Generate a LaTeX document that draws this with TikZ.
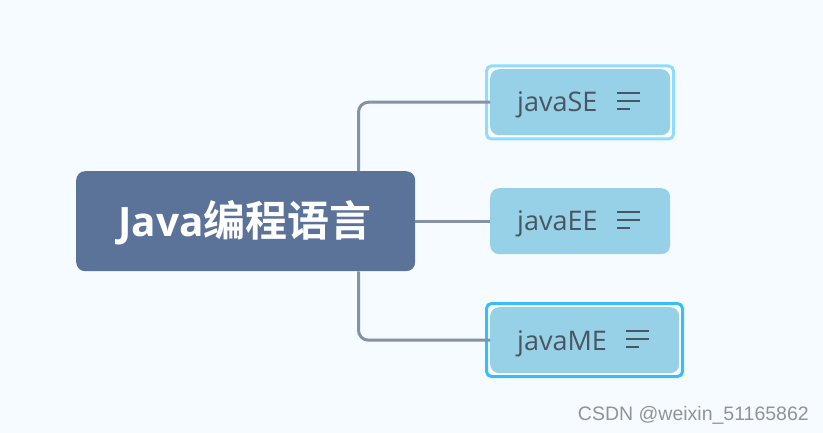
\documentclass[tikz,border=0pt]{standalone}
\usepackage{fontspec}
\setmainfont{Open Sans}
\newfontfamily\cjk{Noto Sans CJK SC}[BoldFont={* Bold}]
\newfontfamily\wmfont{Liberation Sans}
\definecolor{bgc}{HTML}{F5FBFF}
\definecolor{rootc}{HTML}{5B7299}
\definecolor{leafc}{HTML}{96D1E8}
\definecolor{linec}{HTML}{8691A8}
\definecolor{inkc}{HTML}{4A5561}
\definecolor{selc}{HTML}{8FDCFF}
\definecolor{actc}{HTML}{38BDF8}
\tikzset{
  rootbox/.style={fill=rootc,rounded corners=9pt,minimum width=339pt,minimum height=100pt,inner sep=0pt,anchor=north west,text=white},
  leafbox/.style={fill=leafc,rounded corners=9pt,minimum height=66pt,inner sep=0pt,anchor=north west},
  framebox/.style={draw=#1,line width=3pt,fill=white!40!bgc,rounded corners=5pt,inner sep=0pt,anchor=north west},
  leaftext/.style={anchor=base west,inner sep=0pt,text=inkc,font=\fontsize{27}{27}\selectfont},
  conn/.style={draw=linec,line width=3pt,rounded corners=10pt},
  iconline/.style={draw=inkc,line width=2.1pt},
  wmark/.style={anchor=base east,inner sep=0pt,text=gray!85,font=\wmfont\fontsize{19.5}{19.5}\selectfont}
}
\begin{document}
\begin{tikzpicture}[x=1pt,y=-1pt]
\useasboundingbox[fill=bgc] (0,0) rectangle (823,433);
\node[framebox=selc,minimum width=187pt,minimum height=73pt] (seframe) at (485,64.5) {};
\node[framebox=actc,minimum width=196pt,minimum height=73pt] (meframe) at (485,302) {};
\node[rootbox] (root) at (76,171) {};
\node[leafbox,minimum width=180pt] (se) at (490,69) {};
\node[leafbox,minimum width=180pt] (ee) at (490,188) {};
\node[leafbox,minimum width=189pt] (me) at (490,307) {};
\coordinate (trunk) at (358.5,221);
\draw[conn] (trunk |- root.north) |- (se.west);
\draw[conn] (trunk |- root.south) |- (me.west);
\draw[conn] (root.east) -- (ee.west);
\node[anchor=base west,inner sep=0pt,text=white,font=\bfseries\fontsize{40.5}{41}\selectfont] (title) at (118,236.5) {Java{\cjk\fontsize{42}{42}\selectfont 编程语言}};
\node[leaftext] (setext) at (517,112) {javaSE};
\node[leaftext] (eetext) at (517,231) {javaEE};
\node[leaftext] (metext) at (517,350) {javaME};
\foreach \n/\x/\y in {a/617/93,b/617/212,c/626/331}{
  \draw[iconline] (\x,\y) -- ++(23,0);
  \draw[iconline] (\x,\y+8) -- ++(23,0);
  \draw[iconline] (\x,\y+16) -- ++(13,0);
}
\node[wmark] (wm) at (809,420.5) {CSDN @weixin\_51165862};
\end{tikzpicture}
\end{document}
